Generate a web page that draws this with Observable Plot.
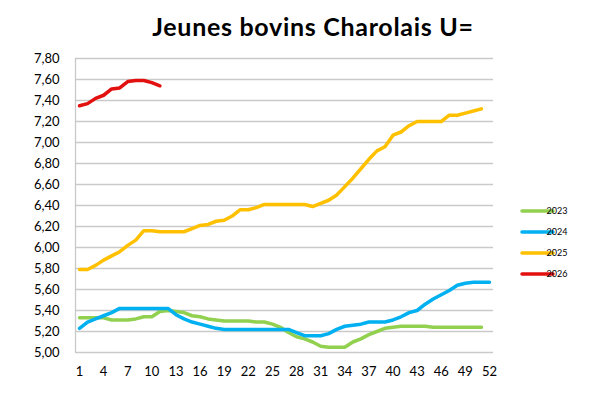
<!DOCTYPE html>
<html><head><meta charset="utf-8">
<script src="https://cdn.jsdelivr.net/npm/d3@7"></script>
<script src="https://cdn.jsdelivr.net/npm/@observablehq/plot@0.6"></script>
<style>
body{margin:0;background:#fff;}
#chart{position:relative;width:600px;height:395px;}
</style>
</head><body><div id="chart"></div>
<script>
const title = "Jeunes bovins Charolais U=";
const years = ["2023","2024","2025","2026"];
const colors = ["#92d050","#00b0f0","#ffc000","#e31010"];
const xTicks = [1,4,7,10,13,16,19,22,25,28,31,34,37,40,43,46,49,52];
const yTicks = [5.0,5.2,5.4,5.6,5.8,6.0,6.2,6.4,6.6,6.8,7.0,7.2,7.4,7.6,7.8];

const v2023 = [5.33,5.33,5.33,5.33,5.31,5.31,5.31,5.32,5.34,5.34,5.39,5.40,5.39,5.38,5.35,5.34,5.32,5.31,5.30,5.30,5.30,5.30,5.29,5.29,5.27,5.24,5.19,5.15,5.13,5.10,5.06,5.05,5.05,5.05,5.10,5.13,5.17,5.20,5.23,5.24,5.25,5.25,5.25,5.25,5.24,5.24,5.24,5.24,5.24,5.24,5.24];
const v2024 = [5.23,5.29,5.32,5.35,5.38,5.42,5.42,5.42,5.42,5.42,5.42,5.42,5.36,5.32,5.29,5.27,5.25,5.23,5.22,5.22,5.22,5.22,5.22,5.22,5.22,5.22,5.22,5.19,5.16,5.16,5.16,5.18,5.22,5.25,5.26,5.27,5.29,5.29,5.29,5.31,5.34,5.38,5.40,5.46,5.51,5.55,5.59,5.64,5.66,5.67,5.67,5.67];
const v2025 = [5.79,5.79,5.83,5.88,5.92,5.96,6.02,6.07,6.16,6.16,6.15,6.15,6.15,6.15,6.18,6.21,6.22,6.25,6.26,6.30,6.36,6.36,6.38,6.41,6.41,6.41,6.41,6.41,6.41,6.39,6.42,6.45,6.50,6.58,6.66,6.75,6.84,6.92,6.96,7.07,7.10,7.16,7.20,7.20,7.20,7.20,7.26,7.26,7.28,7.30,7.32,7.33].slice(0,51);
const v2026 = [7.35,7.37,7.42,7.45,7.51,7.52,7.58,7.59,7.59,7.57,7.54];

const series = [v2023,v2024,v2025,v2026];
const rows = series.flatMap((vals,i)=>vals.map((v,j)=>({year:years[i],week:j+1,value:v})));

const fmt = d => d.toFixed(2).replace(".", ",");
const font = "Lato, 'Open Sans', sans-serif";

const plot = Plot.plot({
  width:600, height:395,
  marginLeft:75, marginRight:107, marginTop:58, marginBottom:43,
  style:{fontFamily:font, fontSize:"13px", color:"#000", background:"#fff"},
  x:{domain:[0.5,52.5], ticks:xTicks, tickSize:0, tickPadding:14, tickFormat:d=>d, label:null},
  y:{domain:[5.0,7.8], ticks:yTicks, tickSize:0, tickPadding:16, tickFormat:fmt, label:null},
  color:{domain:years, range:colors},
  marks:[
    Plot.gridY(yTicks,{stroke:"#c9c9c9", strokeOpacity:1, strokeWidth:1.3}),
    Plot.ruleX([0.5],{stroke:"#c9c9c9", strokeWidth:1.3}),
    Plot.line(rows,{x:"week", y:"value", z:"year", stroke:"year", strokeWidth:3.5, strokeLinejoin:"round", strokeLinecap:"round"})
  ]
});
document.getElementById("chart").appendChild(plot);

const svg = d3.select(plot);
svg.append("text").attr("x",313).attr("y",36).attr("text-anchor","middle")
  .style("font-family",font).style("font-weight","700").style("font-size","25px")
  .style("letter-spacing","0.7px")
  .text(title);

const lg = svg.append("g");
years.forEach((yr,i)=>{
  const y = 211 + i*21;
  lg.append("line").attr("x1",522).attr("x2",553).attr("y1",y).attr("y2",y)
    .attr("stroke",colors[i]).attr("stroke-width",3.5).attr("stroke-linecap","round");
  lg.append("text").attr("x",557).attr("y",y).attr("dy","0.35em")
    .style("font-family",font).style("font-size","9px").text(yr);
});
</script>
</body></html>
